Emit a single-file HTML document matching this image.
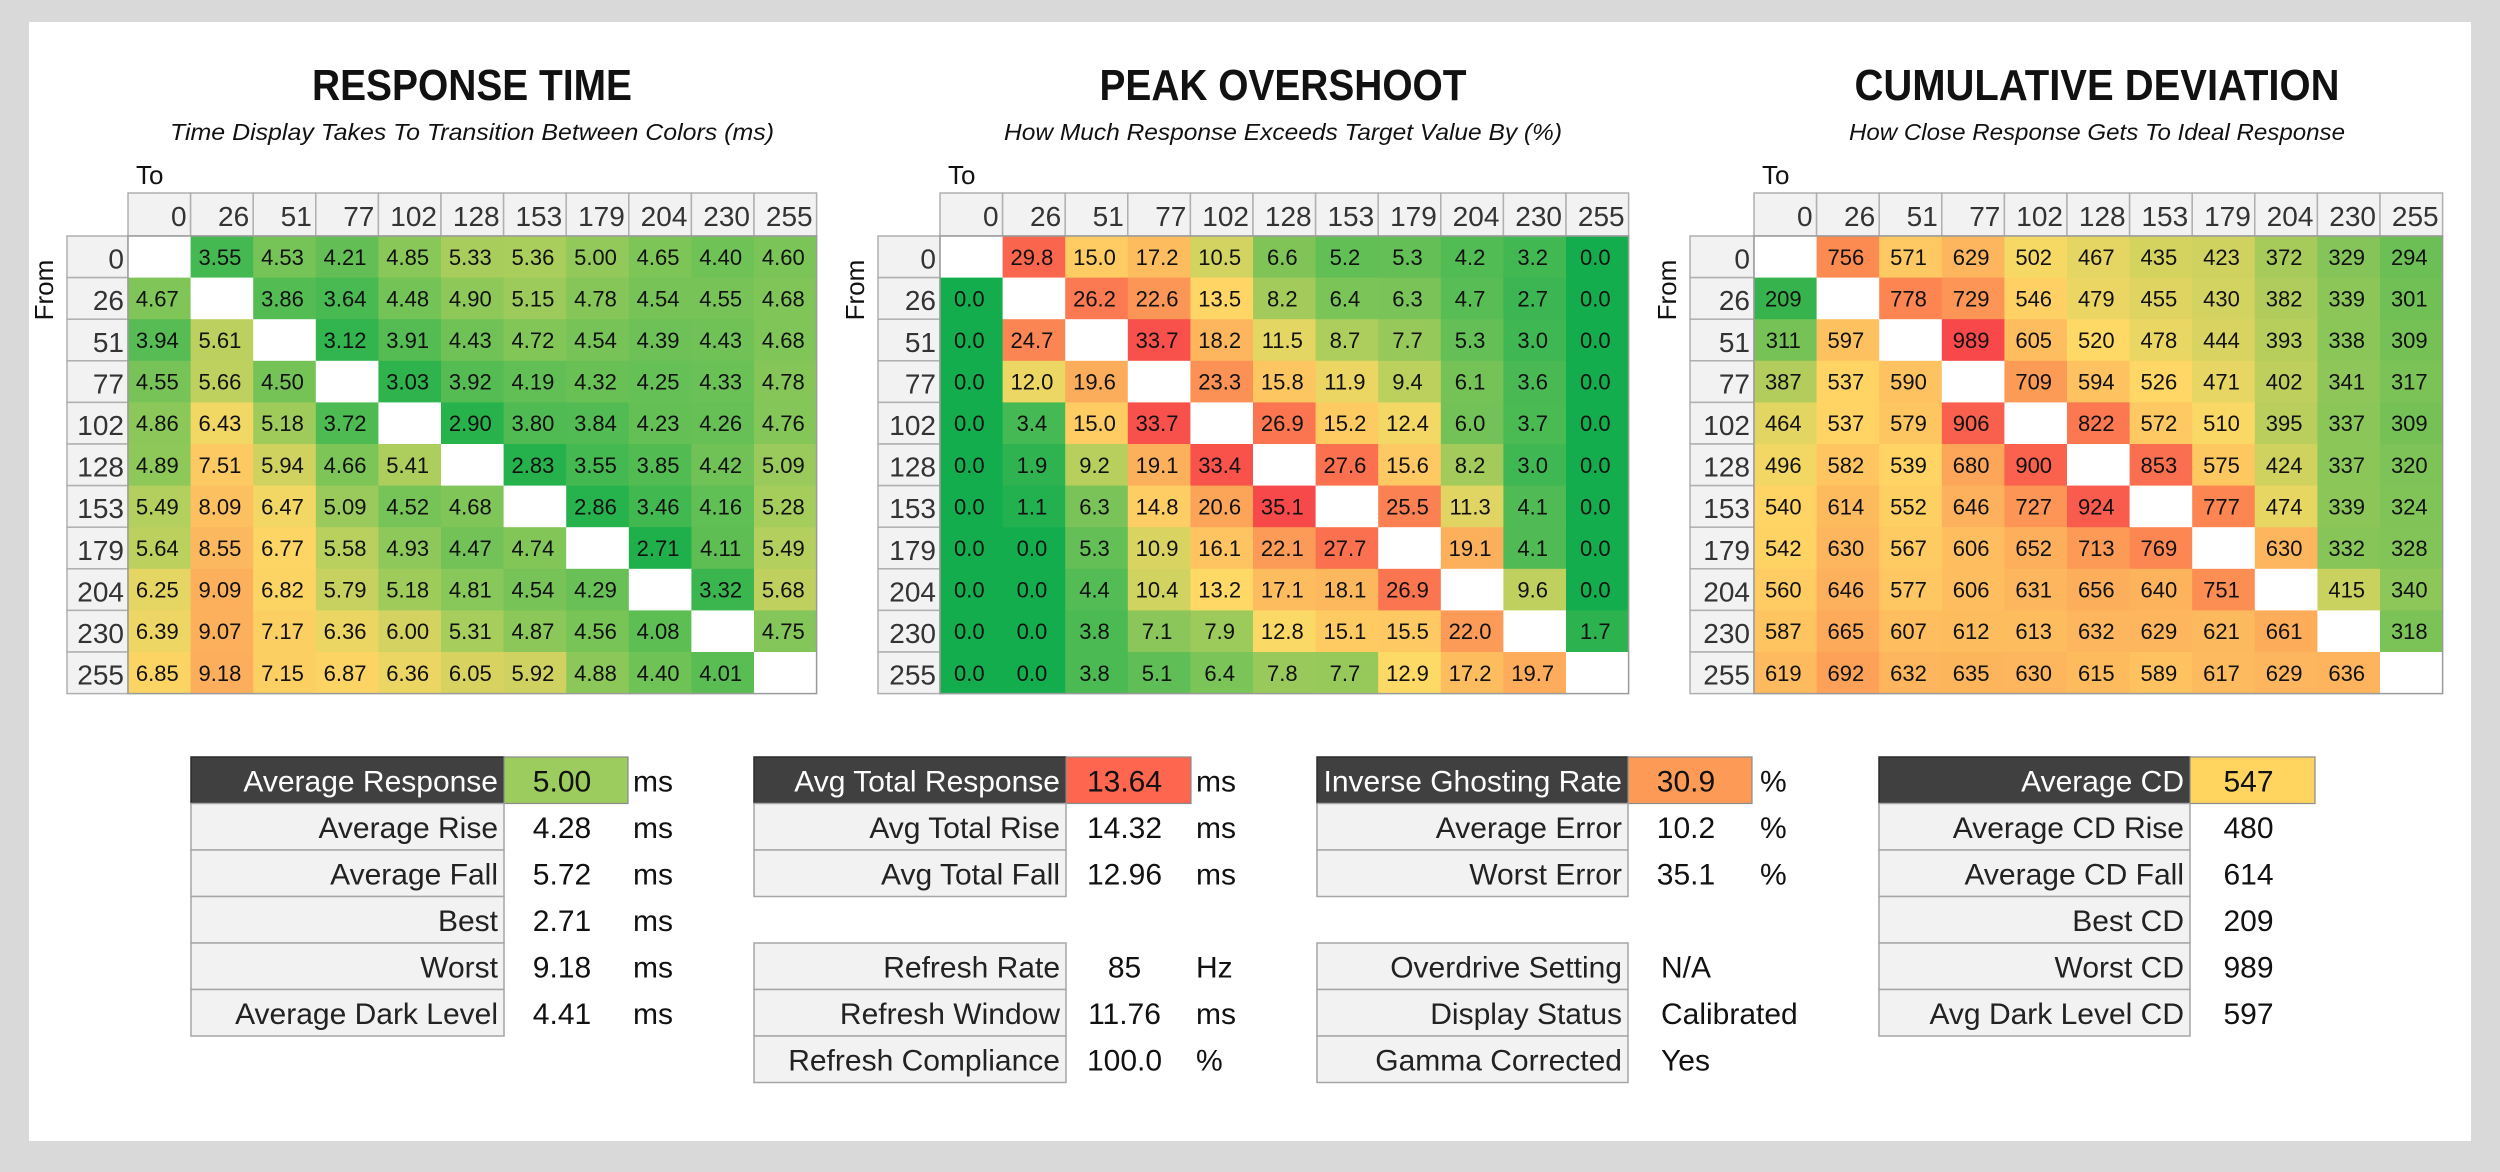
<!DOCTYPE html>
<html><head><meta charset="utf-8">
<style>
html,body{margin:0;padding:0;background:#d9d9d9;}
svg{display:block;font-family:"Liberation Sans Narrow","Liberation Sans",sans-serif;}
</style></head>
<body>
<svg id="root" width="2500" height="1172" viewBox="0 0 2500 1172" xmlns="http://www.w3.org/2000/svg">
<rect x="0" y="0" width="2500" height="1172" fill="#d9d9d9"/>
<rect x="29" y="22" width="2442" height="1119" fill="#ffffff"/>
<g id="charts"></g>
<g id="stats"></g>
</svg>
<script>
const levels = [0,26,51,77,102,128,153,179,204,230,255];
const rtValues = [
[null,3.55,4.53,4.21,4.85,5.33,5.36,5.00,4.65,4.40,4.60],
[4.67,null,3.86,3.64,4.48,4.90,5.15,4.78,4.54,4.55,4.68],
[3.94,5.61,null,3.12,3.91,4.43,4.72,4.54,4.39,4.43,4.68],
[4.55,5.66,4.50,null,3.03,3.92,4.19,4.32,4.25,4.33,4.78],
[4.86,6.43,5.18,3.72,null,2.90,3.80,3.84,4.23,4.26,4.76],
[4.89,7.51,5.94,4.66,5.41,null,2.83,3.55,3.85,4.42,5.09],
[5.49,8.09,6.47,5.09,4.52,4.68,null,2.86,3.46,4.16,5.28],
[5.64,8.55,6.77,5.58,4.93,4.47,4.74,null,2.71,4.11,5.49],
[6.25,9.09,6.82,5.79,5.18,4.81,4.54,4.29,null,3.32,5.68],
[6.39,9.07,7.17,6.36,6.00,5.31,4.87,4.56,4.08,null,4.75],
[6.85,9.18,7.15,6.87,6.36,6.05,5.92,4.88,4.40,4.01,null]];
const osValues = [
[null,29.8,15.0,17.2,10.5,6.6,5.2,5.3,4.2,3.2,0.0],
[0.0,null,26.2,22.6,13.5,8.2,6.4,6.3,4.7,2.7,0.0],
[0.0,24.7,null,33.7,18.2,11.5,8.7,7.7,5.3,3.0,0.0],
[0.0,12.0,19.6,null,23.3,15.8,11.9,9.4,6.1,3.6,0.0],
[0.0,3.4,15.0,33.7,null,26.9,15.2,12.4,6.0,3.7,0.0],
[0.0,1.9,9.2,19.1,33.4,null,27.6,15.6,8.2,3.0,0.0],
[0.0,1.1,6.3,14.8,20.6,35.1,null,25.5,11.3,4.1,0.0],
[0.0,0.0,5.3,10.9,16.1,22.1,27.7,null,19.1,4.1,0.0],
[0.0,0.0,4.4,10.4,13.2,17.1,18.1,26.9,null,9.6,0.0],
[0.0,0.0,3.8,7.1,7.9,12.8,15.1,15.5,22.0,null,1.7],
[0.0,0.0,3.8,5.1,6.4,7.8,7.7,12.9,17.2,19.7,null]];
const cdValues = [
[null,756,571,629,502,467,435,423,372,329,294],
[209,null,778,729,546,479,455,430,382,339,301],
[311,597,null,989,605,520,478,444,393,338,309],
[387,537,590,null,709,594,526,471,402,341,317],
[464,537,579,906,null,822,572,510,395,337,309],
[496,582,539,680,900,null,853,575,424,337,320],
[540,614,552,646,727,924,null,777,474,339,324],
[542,630,567,606,652,713,769,null,630,332,328],
[560,646,577,606,631,656,640,751,null,415,340],
[587,665,607,612,613,632,629,621,661,null,318],
[619,692,632,635,630,615,589,617,629,636,null]];

const NS="http://www.w3.org/2000/svg";
function mk(tag,attrs,parent){const e=document.createElementNS(NS,tag);for(const k in attrs)e.setAttribute(k,attrs[k]);if(parent)parent.appendChild(e);return e;}
function hex(c){return [parseInt(c.slice(1,3),16),parseInt(c.slice(3,5),16),parseInt(c.slice(5,7),16)];}
function scale(stops,v){
  if(v<=stops[0][0])return stops[0][1];
  for(let i=1;i<stops.length;i++){if(v<=stops[i][0]){const a=stops[i-1],b=stops[i];const t=(v-a[0])/(b[0]-a[0]);const ca=hex(a[1]),cb=hex(b[1]);return 'rgb('+ca.map((x,j)=>Math.round(x+(cb[j]-x)*t)).join(',')+')';}}
  return stops[stops.length-1][1];
}
const rtStops=[[2.7,'#1fb04b'],[4.2,'#62bf55'],[5.3,'#a6cd5c'],[6.6,'#fcd865'],[9.2,'#fcae5c'],[12,'#f8696b']];
const osStops=[[0,'#13ad4e'],[5,'#5dbe55'],[10,'#c9d25f'],[13,'#ffd966'],[20,'#fcaa5a'],[27,'#fb7450'],[35,'#f8494a']];
const cdStops=[[209,'#36b34d'],[320,'#7dc357'],[420,'#cdd25f'],[520,'#ffd966'],[640,'#fdb35c'],[760,'#fc8a52'],[990,'#f8484a']];

const charts=[
 {name:'response-time',title:'RESPONSE TIME',sub:'Time Display Takes To Transition Between Colors (ms)',cx:472,tw:320,sw:604,x0:67,x1:128,data:rtValues,stops:rtStops,fmt:v=>v.toFixed(2)},
 {name:'peak-overshoot',title:'PEAK OVERSHOOT',sub:'How Much Response Exceeds Target Value By (%)',cx:1283,tw:367,sw:558,x0:878,x1:940,data:osValues,stops:osStops,fmt:v=>v.toFixed(1)},
 {name:'cumulative-deviation',title:'CUMULATIVE DEVIATION',sub:'How Close Response Gets To Ideal Response',cx:2097,tw:485,sw:496,x0:1690,x1:1754,data:cdValues,stops:cdStops,fmt:v=>String(v)}
];
const colW=62.6, hdrY=193, hdrH=43, rowH=41.6;
const root=document.getElementById('charts');
charts.forEach(c=>{
  const g=mk('g',{},root);
  
  
  const t=mk('text',{x:c.cx,y:100,'text-anchor':'middle','font-size':44,'font-weight':'bold','font-family':'Liberation Sans, sans-serif',fill:'#111',textLength:c.tw,lengthAdjust:'spacingAndGlyphs'},g);
  t.textContent=c.title;
  
  
  const s=mk('text',{x:c.cx,y:140,'text-anchor':'middle','font-size':23,'font-style':'italic','font-family':'Liberation Sans, sans-serif',fill:'#111',textLength:c.sw,lengthAdjust:'spacingAndGlyphs'},g);
  s.textContent=c.sub;
  
  
  const to=mk('text',{x:c.x1+8,y:184,'font-size':26,fill:'#111'},g);
  to.textContent='To';
  
  
  const fr=mk('text',{x:0,y:0,'font-size':26,fill:'#111','text-anchor':'middle',transform:'translate('+(c.x0-14)+','+(hdrY+hdrH+rowH*1.3)+') rotate(-90)'},g);
  fr.textContent='From';
  
  
  levels.forEach((lv,j)=>{
    const x=c.x1+j*colW;
    const r=mk('rect',{x:x,y:hdrY,width:colW,height:hdrH,fill:'#f2f2f2',stroke:'#b0b0b0','stroke-width':1.5},g);
    
    
    const tx=mk('text',{x:x+colW-4,y:hdrY+hdrH-10,'text-anchor':'end','font-size':28,fill:'#333'},g);
    tx.textContent=lv;
    
    
  });
  levels.forEach((lv,i)=>{
    const y=hdrY+hdrH+i*rowH;
    const r=mk('rect',{x:c.x0,y:y,width:c.x1-c.x0,height:rowH,fill:'#f2f2f2',stroke:'#b0b0b0','stroke-width':1.5},g);
    
    
    const tx=mk('text',{x:c.x1-4,y:y+rowH-9,'text-anchor':'end','font-size':28,fill:'#333'},g);
    tx.textContent=lv;
    
    
    c.data[i].forEach((v,j)=>{
      const x=c.x1+j*colW;
      const fill=v===null?'#ffffff':scale(c.stops,v);
      const cell=mk('rect',{x:x,y:y,width:colW+0.5,height:rowH+0.5,fill:fill},g);
      
      
      if(v!==null){
        const vt=mk('text',{x:x+colW/2-2,y:y+rowH/2+8,'text-anchor':'middle','font-size':22,fill:'#111'},g);
        vt.textContent=c.fmt(v);
        
        
      }
    });
  });
  const ob=mk('rect',{x:c.x1,y:hdrY+hdrH,width:11*colW,height:11*rowH,fill:'none',stroke:'#9a9a9a','stroke-width':1.5},g);
  
  
});

const statRowY=[757,803.5,850,896.5,943,989.5,1036];
const statRowH=46.5;
const tables=[
 {name:'response-stats',lx:191,vx:504,ux:633,vw:124,rows:[
  [0,'Average Response','5.00','ms','#9bcc5d'],[1,'Average Rise','4.28','ms'],[2,'Average Fall','5.72','ms'],[3,'Best','2.71','ms'],[4,'Worst','9.18','ms'],[5,'Average Dark Level','4.41','ms']]},
 {name:'total-response-stats',lx:754,vx:1066,ux:1196,vw:125,rows:[
  [0,'Avg Total Response','13.64','ms','#fe6650'],[1,'Avg Total Rise','14.32','ms'],[2,'Avg Total Fall','12.96','ms'],[4,'Refresh Rate','85','Hz'],[5,'Refresh Window','11.76','ms'],[6,'Refresh Compliance','100.0','%']]},
 {name:'overshoot-stats',lx:1317,vx:1628,ux:1760,vw:124,rows:[
  [0,'Inverse Ghosting Rate','30.9','%','#fd9a56'],[1,'Average Error','10.2','%'],[2,'Worst Error','35.1','%'],[4,'Overdrive Setting','N/A','',null,true],[5,'Display Status','Calibrated','',null,true],[6,'Gamma Corrected','Yes','',null,true]]},
 {name:'cd-stats',lx:1879,vx:2190,ux:2320,vw:125,rows:[
  [0,'Average CD','547','','#ffd560'],[1,'Average CD Rise','480',''],[2,'Average CD Fall','614',''],[3,'Best CD','209',''],[4,'Worst CD','989',''],[5,'Avg Dark Level CD','597','']]}
];
const sroot=document.getElementById('stats');
tables.forEach(tb=>{
  const g=mk('g',{},sroot);
  
  
  tb.rows.forEach(r=>{
    const [ri,label,val,unit,color,leftAlign]=r;
    const y=statRowY[ri];
    const hdr=!!color;
    const lb=mk('rect',{x:tb.lx,y:y,width:tb.vx-tb.lx,height:statRowH,fill:hdr?'#404040':'#f2f2f2',stroke:hdr?'#2a2a2a':'#a6a6a6','stroke-width':1.5},g);
    
    
    const lt=mk('text',{x:tb.vx-6,y:y+statRowH-12,'text-anchor':'end','font-size':30,fill:hdr?'#ffffff':'#222'},g);
    lt.textContent=label;
    
    
    if(hdr){
      const vb=mk('rect',{x:tb.vx,y:y,width:tb.vw,height:statRowH,fill:color,stroke:'#8a8a8a','stroke-width':1.2},g);
      
      
    }
    const vt=mk('text',{x:leftAlign?tb.vx+33:tb.vx+tb.vw/2-4,y:y+statRowH-12,'text-anchor':leftAlign?'start':'middle','font-size':30,fill:'#111'},g);
    vt.textContent=val;
    
    
    if(unit){
      const ut=mk('text',{x:tb.ux,y:y+statRowH-12,'font-size':30,fill:'#111'},g);
      ut.textContent=unit;
      
      
    }
  });
});
</script>
</body></html>
